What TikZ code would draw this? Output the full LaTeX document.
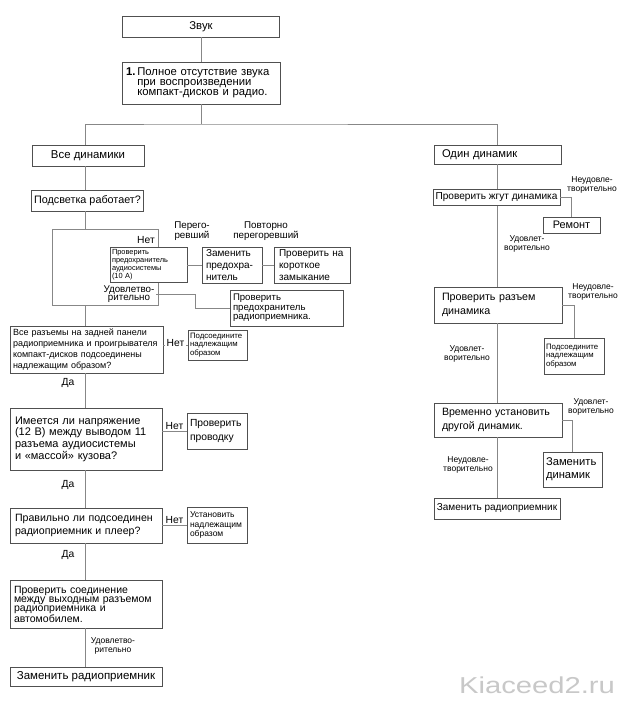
\documentclass[tikz,border=0pt]{standalone}
\usepackage{fontspec}
\setmainfont{Liberation Sans}
\definecolor{bxc}{RGB}{80,80,80}
\definecolor{lnc}{RGB}{135,135,135}
\definecolor{wmc}{RGB}{200,200,200}
\newcommand\myfs[2]{\fontsize{#1}{#2}\selectfont}
\begin{document}
\begin{tikzpicture}[x=1pt,y=-1pt,
  bx/.style={draw=bxc,line width=0.8pt,fill=white,inner sep=0pt,align=left},
  cn/.style={draw=lnc,line width=0.9pt},
  lb/.style={inner sep=0.5pt,align=center}]
\fill[white] (0,0) rectangle (622,703);
\useasboundingbox (0,0) rectangle (622,703);

\coordinate (sp) at (85,0);
\coordinate (sr) at (497,0);
\coordinate (hj) at (201,124);
\coordinate (lpA) at (52,229);
\coordinate (lpB) at (158,305);
\coordinate (jr) at (195,0);

% loop frame
\draw[cn] (lpA) rectangle (lpB);

% ---- boxes, left
\node[bx,minimum width=157pt,minimum height=21pt,align=center,font=\myfs{11.3}{12}] (zvuk) at (201,26.5) {Звук};
\node[bx,minimum width=158pt,minimum height=42pt,text width=150pt,font=\myfs{11.3}{10.2}] (b1) at (201,83)
  {\textbf{1.}\,\begin{tabular}[t]{@{}l@{}}Полное отсутствие звука\\при воспроизведении\\компакт-дисков и радио.\end{tabular}};
\node[bx,minimum width=112pt,minimum height=21pt,align=center,font=\myfs{11.4}{12}] (vse) at (88,155.5) {Все динамики};
\node[bx,minimum width=112pt,minimum height=21pt,align=center,font=\myfs{10.8}{12}] (podsv) at (87.5,200.5) {Подсветка работает?};
\node[bx,minimum width=77pt,minimum height=35pt,text width=73pt,font=\myfs{7.4}{8.1}] (fuse) at (148.5,265)
  {Проверить\\предохранитель\\аудиосистемы\\(10 А)};
\node[bx,minimum width=60pt,minimum height=36pt,text width=52pt,font=\myfs{10}{12}] (zamen) at (232,265)
  {Заменить\\предохра-\\нитель};
\node[bx,minimum width=76pt,minimum height=36pt,text width=66pt,font=\myfs{10}{12}] (kz) at (312,265)
  {Проверить на\\короткое\\замыкание};
\node[bx,minimum width=113pt,minimum height=36pt,text width=107pt,font=\myfs{9.6}{9.4}] (radfuse) at (286.5,308)
  {Проверить\\предохранитель\\радиоприемника.};
\node[bx,minimum width=153pt,minimum height=47pt,text width=147pt,font=\myfs{9}{10.8}] (razem) at (86.5,349.5)
  {Все разъемы на задней панели\\радиоприемника и проигрывателя\\компакт-дисков подсоединены\\надлежащим образом?};
\node[bx,minimum width=59pt,minimum height=30pt,text width=55pt,font=\myfs{7.8}{8.8}] (podsoed1) at (217.5,345)
  {Подсоедините\\надлежащим\\образом};
\node[bx,minimum width=152pt,minimum height=62pt,text width=142pt,font=\myfs{11}{11.7}] (napr) at (86,439)
  {Имеется ли напряжение\\(12 В) между выводом 11\\разъема аудиосистемы\\и «массой» кузова?};
\node[bx,minimum width=60pt,minimum height=36pt,text width=54pt,font=\myfs{10.3}{13.3}] (provodka) at (217,431)
  {Проверить\\проводку};
\node[bx,minimum width=152pt,minimum height=35pt,text width=142pt,font=\myfs{10.6}{13.3}] (pravil) at (86,525.5)
  {Правильно ли подсоединен\\радиоприемник и плеер?};
\node[bx,minimum width=60pt,minimum height=36pt,text width=54pt,font=\myfs{8.5}{9.2}] (ustan) at (217,525)
  {Установить\\надлежащим\\образом};
\node[bx,minimum width=152pt,minimum height=48pt,text width=144pt,font=\myfs{10.5}{9}] (soed) at (86,604)
  {Проверить соединение\\между выходным разъемом\\радиоприемника и\\автомобилем.};
\node[bx,minimum width=152pt,minimum height=19pt,align=center,font=\myfs{11.5}{12}] (zamrad1) at (86,676.5)
  {Заменить радиоприемник};

% ---- boxes, right
\node[bx,minimum width=127pt,minimum height=19pt,text width=111pt,font=\myfs{11.2}{12}] (odin) at (497.5,154.5) {Один динамик};
\node[bx,minimum width=127pt,minimum height=16pt,align=center,font=\myfs{10.1}{12}] (zhgut) at (496.5,197.5) {Проверить жгут динамика};
\node[bx,minimum width=57pt,minimum height=16pt,align=center,font=\myfs{10.9}{12}] (remont) at (571.5,225) {Ремонт};
\node[bx,minimum width=128pt,minimum height=36pt,text width=112pt,font=\myfs{10.7}{13.3}] (razem2) at (498,305)
  {Проверить разъем\\динамика};
\node[bx,minimum width=60pt,minimum height=36pt,text width=56pt,font=\myfs{7.8}{8.8}] (podsoed2) at (574,356)
  {Подсоедините\\надлежащим\\образом};
\node[bx,minimum width=128pt,minimum height=34pt,text width=112pt,font=\myfs{10.6}{13.3}] (vremen) at (498,420)
  {Временно установить\\другой динамик.};
\node[bx,minimum width=59pt,minimum height=35pt,text width=53pt,font=\myfs{11.2}{13.3}] (zamdin) at (572.5,469.5)
  {Заменить\\динамик};
\node[bx,minimum width=126pt,minimum height=21pt,align=center,font=\myfs{10}{12}] (zamrad2) at (497,508.5)
  {Заменить радиоприемник};

% label that interrupts the loop frame
\node[lb,fill=white,inner xsep=1.5pt,font=\myfs{9.8}{8.5}] (ud1) at (129,294) {Удовлетво-\\рительно};

% ---- connectors
\draw[cn] (zvuk.south) -- (b1.north);
\draw[cn] (b1.south) -- (hj);
\draw[cn] (vse.north -| sp) |- (hj) -| (odin.north -| sr);
\draw[cn] (vse.south -| sp) -- (podsv.north -| sp);
\draw[cn] (podsv.south -| sp) -- (sp |- lpA);
\draw[cn] (sp |- lpB) -- (razem.north -| sp);
\draw[cn] (fuse.east) -- (fuse.east -| zamen.west);
\draw[cn] (zamen.east) -- (zamen.east -| kz.west);
\draw[cn] (ud1.east) -| (jr |- radfuse.west) -- (radfuse.west);
\draw[cn] (razem.east |- podsoed1.west) -- (podsoed1.west);
\draw[cn] (razem.south -| sp) -- (napr.north -| sp);
\draw[cn] (napr.east |- provodka.west) -- (provodka.west);
\draw[cn] (napr.south -| sp) -- (pravil.north -| sp);
\draw[cn] (pravil.east |- ustan.west) -- (ustan.west);
\draw[cn] (pravil.south -| sp) -- (soed.north -| sp);
\draw[cn] (soed.south -| sp) -- (zamrad1.north -| sp);

\draw[cn] (odin.south -| sr) -- (zhgut.north -| sr);
\draw[cn] (zhgut.east) -| (remont.north);
\draw[cn] (zhgut.south -| sr) -- (razem2.north -| sr);
\draw[cn] (razem2.east) -| (podsoed2.north);
\draw[cn] (razem2.south -| sr) -- (vremen.north -| sr);
\draw[cn] (vremen.east) -| (zamdin.north);
\draw[cn] (vremen.south -| sr) -- (zamrad2.north -| sr);

% ---- labels, left
\node[lb,font=\myfs{9.8}{10}] (lperego) at (192,231) {Перего-\\ревший};
\node[lb,font=\myfs{9.8}{10}] (lpovt) at (266,231) {Повторно\\перегоревший};
\node[lb,font=\myfs{10.3}{12}] (net1) at (146,240) {Нет};
\node[lb,fill=white,inner xsep=1.5pt,font=\myfs{10.3}{12}] (net2) at (175.5,343) {Нет};
\node[lb,anchor=south,font=\myfs{10.3}{12}] (net3) at (174.5,430.5) {Нет};
\node[lb,anchor=south,font=\myfs{10.3}{12}] (net4) at (174.5,524.5) {Нет};
\node[lb,font=\myfs{10.3}{12}] (da1) at (68,383) {Да};
\node[lb,font=\myfs{10.3}{12}] (da2) at (68,485) {Да};
\node[lb,font=\myfs{10.3}{12}] (da3) at (68,555) {Да};
\node[lb,font=\myfs{8.5}{8.3}] (ud2) at (113,646) {Удовлетво-\\рительно};

% ---- labels, right
\node[lb,font=\myfs{8.5}{8.3}] (r1) at (592,185) {Неудовле-\\творительно};
\node[lb,font=\myfs{8.5}{8.3}] (r2) at (527,244) {Удовлет-\\ворительно};
\node[lb,font=\myfs{8.5}{8.3}] (r3) at (593,292) {Неудовле-\\творительно};
\node[lb,font=\myfs{8.5}{8.3}] (r4) at (467,354) {Удовлет-\\ворительно};
\node[lb,font=\myfs{8.5}{8.3}] (r5) at (591,407) {Удовлет-\\ворительно};
\node[lb,font=\myfs{8.5}{8.3}] (r6) at (468,465) {Неудовле-\\творительно};

% watermark
\node[lb,text=wmc,font=\myfs{23}{24}] (wm) at (537,685) {\scalebox{1.27}[1]{Kiaceed2.ru}};
\end{tikzpicture}
\end{document}
